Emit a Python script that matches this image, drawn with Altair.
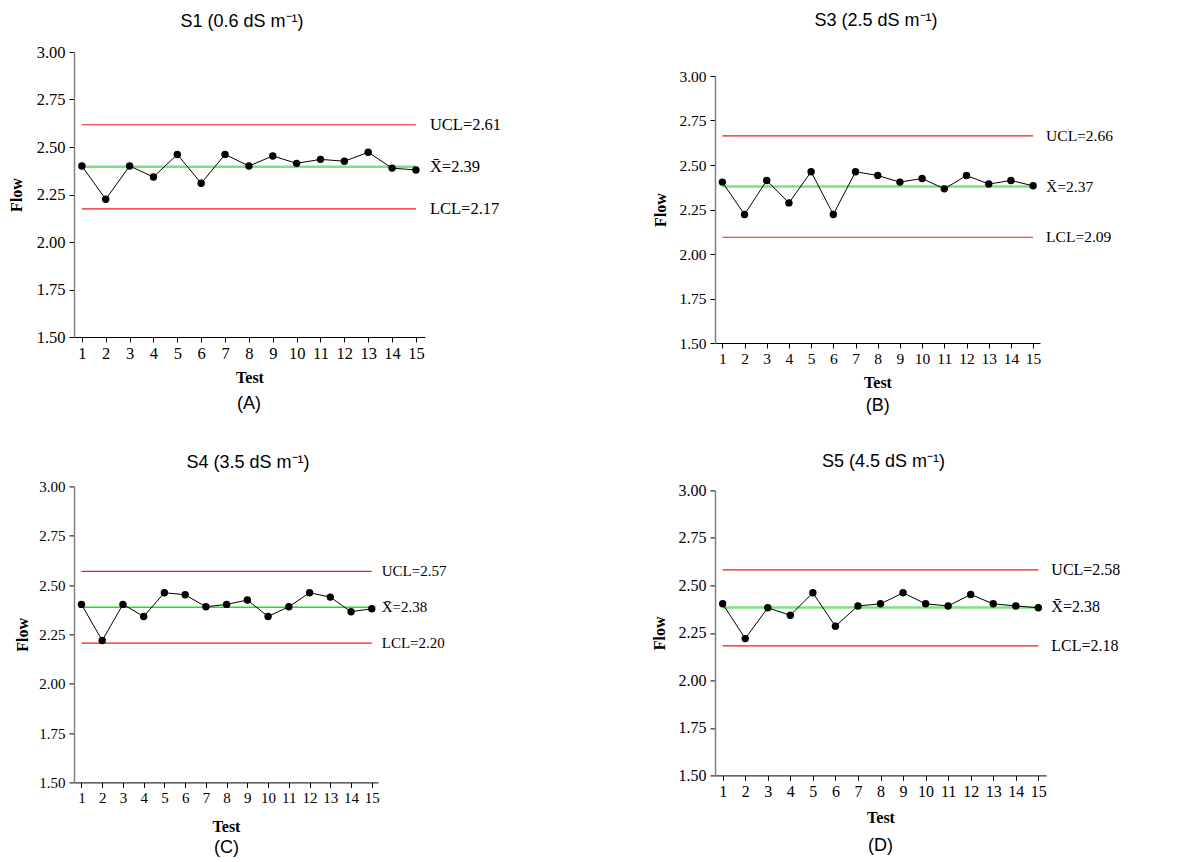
import altair as alt
import pandas as pd

SERIF = "Liberation Serif"
SANS = "Liberation Sans"

tests = list(range(1, 16))

flow_A = [2.400, 2.225, 2.400, 2.342, 2.461, 2.309, 2.461, 2.400, 2.453, 2.414, 2.435, 2.425, 2.472, 2.389, 2.379]
flow_B = [2.404, 2.222, 2.413, 2.287, 2.462, 2.222, 2.462, 2.441, 2.404, 2.424, 2.366, 2.441, 2.393, 2.413, 2.383]
flow_C = [2.402, 2.219, 2.402, 2.341, 2.461, 2.451, 2.390, 2.402, 2.424, 2.341, 2.390, 2.461, 2.439, 2.365, 2.380]
flow_D = [2.403, 2.220, 2.382, 2.343, 2.461, 2.285, 2.392, 2.403, 2.461, 2.403, 2.392, 2.452, 2.403, 2.392, 2.382]
flows = [flow_A, flow_B, flow_C, flow_D]

ucl_values = [2.617, 2.664, 2.569, 2.582]
mean_values = [2.396, 2.379, 2.387, 2.384]
lcl_values = [2.174, 2.094, 2.206, 2.182]
ucl_labels = ["UCL=2.61", "UCL=2.66", "UCL=2.57", "UCL=2.58"]
mean_labels = ["X\u0304=2.39", "X\u0304=2.37", "X\u0304=2.38", "X\u0304=2.38"]
lcl_labels = ["LCL=2.17", "LCL=2.09", "LCL=2.20", "LCL=2.18"]

titles = ["S1 (0.6 dS m\u207b\u00b9)", "S3 (2.5 dS m\u207b\u00b9)", "S4 (3.5 dS m\u207b\u00b9)", "S5 (4.5 dS m\u207b\u00b9)"]
letters = ["(A)", "(B)", "(C)", "(D)"]
y_ticks = [1.50, 1.75, 2.00, 2.25, 2.50, 2.75, 3.00]

# layout / style per panel (order A, B, C, D)
widths = [351, 325, 304, 331]
heights = [285, 267, 296, 285]
x_domains = [[0.67, 15.38], [0.67, 15.31], [0.64, 15.30], [0.66, 15.34]]
font_sizes = [16.5, 15.5, 15, 16]
label_dx = [14, 13, 10, 13]
title_x = [168, 161, 174, 168.4]          # title centre, from plot-area left
title_y = [-30.5, -54.8, -23.4, -28]      # title centre, from plot-area top
letter_offsets = [67, 62.7, 65.4, 71]
x_title_pad = [8, 8, 13, 10.2]
y_title_pad = [12, 10, 8, 11]
mean_colors = ["#7de27d", "#7de27d", "#22dd22", "#7de27d"]
mean_widths = [2.5, 2.5, 1.5, 2.5]
RED = "#ee1c1c"


def panel(i):
    fs = font_sizes[i]
    df = pd.DataFrame({"Test": tests, "Flow": flows[i]})
    xscale = alt.Scale(domain=x_domains[i], nice=False, zero=False)
    yscale = alt.Scale(domain=[1.5, 3.0], nice=False, zero=False)
    xaxis = alt.Axis(values=tests, format="d", title="Test", titleFont=SERIF,
                     titleFontWeight="bold", titleFontSize=16, titleColor="black",
                     labelFont=SERIF, labelFontSize=fs, labelColor="black",
                     tickSize=5, labelPadding=3, titlePadding=x_title_pad[i],
                     domainColor="black", tickColor="black", grid=False, labelAngle=0)
    yaxis = alt.Axis(values=y_ticks, format=".2f", title="Flow", titleFont=SERIF,
                     titleFontWeight="bold", titleFontSize=16, titleColor="black",
                     labelFont=SERIF, labelFontSize=fs, labelColor="black",
                     tickSize=5, labelPadding=4, titlePadding=y_title_pad[i],
                     domainColor="#808080", domainWidth=1.5, tickColor="black", grid=False)
    x = alt.X("Test:Q", scale=xscale, axis=xaxis)
    y = alt.Y("Flow:Q", scale=yscale, axis=yaxis)

    lim = pd.DataFrame({
        "kind": ["UCL", "Mean", "LCL"],
        "Flow": [ucl_values[i], mean_values[i], lcl_values[i]],
        "label": [ucl_labels[i], mean_labels[i], lcl_labels[i]],
    })

    def rule(kind, color, width):
        return alt.Chart(lim).transform_filter(alt.datum.kind == kind).mark_rule(
            color=color, strokeWidth=width).encode(
            x=alt.datum(1, scale=xscale, axis=xaxis), x2=alt.datum(15), y=y)

    rules = [rule("Mean", mean_colors[i], mean_widths[i]), rule("UCL", RED, 1.2), rule("LCL", RED, 1.2)]
    labels = alt.Chart(lim).mark_text(align="left", baseline="middle", dx=label_dx[i],
                                      font=SERIF, fontSize=fs, color="black").encode(
        x=alt.datum(15, scale=xscale, axis=xaxis), y=y, text="label:N")
    line = alt.Chart(df).mark_line(color="black", strokeWidth=1).encode(x=x, y=y)
    pts = alt.Chart(df).mark_circle(size=55, color="black", opacity=1).encode(x=x, y=y)
    letter = alt.Chart(pd.DataFrame({"t": [letters[i]]})).mark_text(
        font=SANS, fontSize=18, color="black", baseline="middle").encode(
        x=alt.datum(8, scale=xscale, axis=xaxis), y=alt.value(heights[i] + letter_offsets[i]), text="t:N")
    title = alt.Chart(pd.DataFrame({"t": [titles[i]]})).mark_text(
        font=SANS, fontSize=18, color="black", baseline="middle", align="center").encode(
        x=alt.value(title_x[i]), y=alt.value(title_y[i]), text="t:N")

    return alt.layer(*rules, line, pts, labels, letter, title).properties(
        width=widths[i], height=heights[i])


def spacer():
    # tiny invisible cell at the top of each column, so both columns start
    # from the same line and each panel flows below it by its full extent
    return alt.Chart(pd.DataFrame({"s": [0]})).mark_point(size=0, opacity=0).encode(
        x=alt.value(0), y=alt.value(0)).properties(width=1, height=1)


col1 = alt.vconcat(alt.vconcat(spacer(), panel(0), spacing=0), panel(2), spacing=40.4)
col2 = alt.vconcat(alt.vconcat(spacer(), panel(1), spacing=0), panel(3), spacing=38.4)
chart = alt.hconcat(col1, col2, spacing=149).properties(
    padding={"left": 0, "top": 3, "right": 0, "bottom": 0}, background="white"
).configure_view(strokeWidth=0)

chart.save("out.html", embed_options={"renderer": "svg", "actions": False})
